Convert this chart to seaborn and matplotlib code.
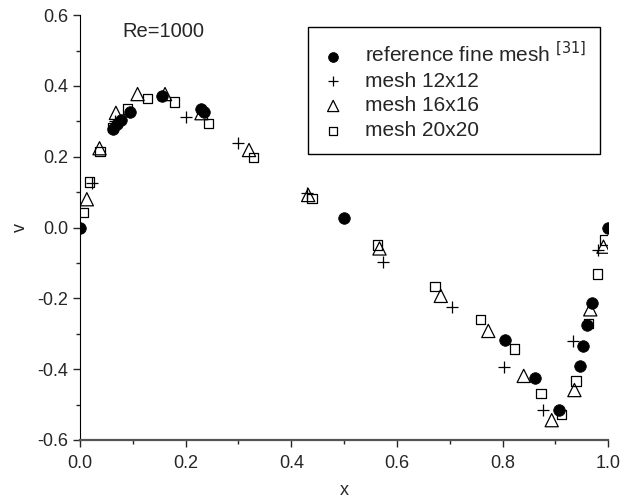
import numpy as np
import pandas as pd
import matplotlib
matplotlib.use("Agg")
import matplotlib.pyplot as plt
import seaborn as sns

# values
ref_x = [0.0, 0.063, 0.071, 0.077, 0.095, 0.155, 0.229, 0.235, 0.499,
         0.805, 0.861, 0.906, 0.946, 0.953, 0.960, 0.970, 1.0]
ref_v = [0.0, 0.277, 0.292, 0.305, 0.325, 0.372, 0.334, 0.326, 0.028,
         -0.318, -0.426, -0.516, -0.391, -0.335, -0.275, -0.214, 0.0]

m12_x = [0.022, 0.066, 0.200, 0.299, 0.429, 0.573, 0.704, 0.802, 0.877, 0.934, 0.980]
m12_v = [0.125, 0.300, 0.311, 0.238, 0.097, -0.097, -0.225, -0.393, -0.516, -0.321, -0.064]

m16_x = [0.013, 0.037, 0.068, 0.109, 0.161, 0.230, 0.320, 0.432, 0.567,
         0.683, 0.773, 0.840, 0.893, 0.936, 0.966, 0.991]
m16_v = [0.080, 0.224, 0.324, 0.377, 0.377, 0.323, 0.219, 0.092, -0.059,
         -0.193, -0.292, -0.419, -0.544, -0.459, -0.231, -0.054]

m20_x = [0.006, 0.018, 0.038, 0.061, 0.090, 0.128, 0.179, 0.243, 0.328, 0.439,
         0.563, 0.672, 0.758, 0.823, 0.873, 0.911, 0.939, 0.963, 0.980, 0.993]
m20_v = [0.043, 0.129, 0.214, 0.283, 0.335, 0.364, 0.355, 0.293, 0.198, 0.082,
         -0.049, -0.167, -0.259, -0.343, -0.468, -0.528, -0.433, -0.271, -0.131, -0.035]

labels = ["reference fine mesh $^{[31]}$", "mesh 12x12", "mesh 16x16", "mesh 20x20"]

sns.set_style("ticks")
plt.rcParams['font.family'] = ['Liberation Sans', 'DejaVu Sans']

fig = plt.figure(figsize=(6.2, 5.04), dpi=100)
ax = fig.add_axes([0.129, 0.127, 0.852, 0.843])

sns.scatterplot(x=ref_x, y=ref_v, ax=ax, marker='o', s=70, color='black',
                edgecolor='black', linewidth=0.5, label=labels[0], zorder=3)
sns.scatterplot(x=m12_x, y=m12_v, ax=ax, marker='+', s=70, color='black',
                linewidth=0.9, label=labels[1], zorder=3)
sns.scatterplot(x=m16_x, y=m16_v, ax=ax, marker='^', s=90, facecolor='none',
                edgecolor='black', linewidth=0.9, label=labels[2], zorder=3)
sns.scatterplot(x=m20_x, y=m20_v, ax=ax, marker='s', s=45, facecolor='none',
                edgecolor='black', linewidth=0.9, label=labels[3], zorder=3)

ax.set_xlim(0, 1.0)
ax.set_ylim(-0.6, 0.6)
ax.set_xticks(np.arange(0, 1.01, 0.2))
ax.set_xticks(np.arange(0.1, 1.0, 0.2), minor=True)
ax.set_yticks(np.arange(-0.6, 0.61, 0.2))
ax.set_yticks(np.arange(-0.5, 0.6, 0.2), minor=True)
ax.set_xticklabels([f"{t:.1f}" for t in np.arange(0, 1.01, 0.2)])
ax.set_yticklabels([f"{t:.1f}" for t in np.arange(-0.6, 0.61, 0.2)])
ax.tick_params(axis='both', which='major', length=5, width=1, labelsize=13, direction='out')
ax.tick_params(axis='x', which='major', pad=6)
ax.tick_params(axis='both', which='minor', length=3, width=1, direction='out')

for s in ['top', 'right']:
    ax.spines[s].set_visible(False)
ax.spines['left'].set_color('black')
ax.spines['bottom'].set_color('#555555')
ax.spines['bottom'].set_linewidth(1.6)

ax.set_xlabel("x", fontsize=13, labelpad=7)
ax.set_ylabel("v", fontsize=13, labelpad=6)

ax.text(0.08, 0.555, "Re=1000", fontsize=14.5, va='center', ha='left')

leg = ax.legend(loc='upper left', bbox_to_anchor=(0.432, 0.971), fontsize=15,
                frameon=True, fancybox=False, edgecolor='black', framealpha=1,
                handlelength=1.1, handletextpad=1.0, labelspacing=0.27,
                borderpad=0.65, borderaxespad=0, markerscale=0.85)
leg.get_frame().set_linewidth(1.0)

fig.savefig("out.png", dpi=100)
